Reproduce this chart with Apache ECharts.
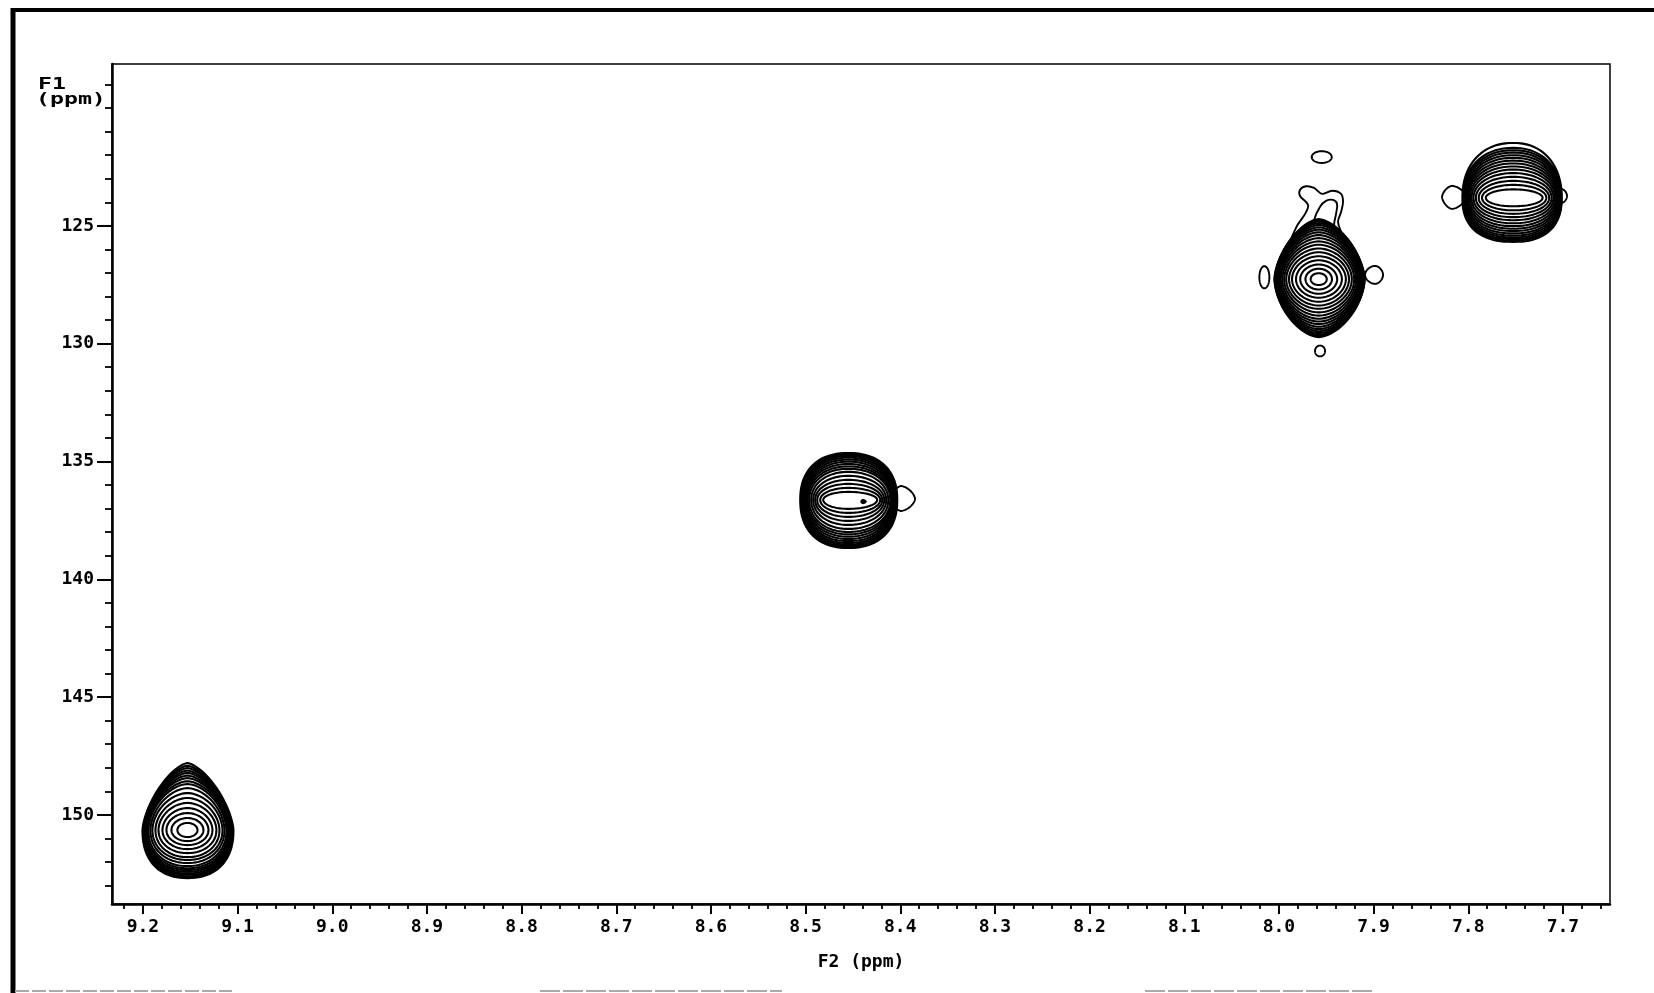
<!DOCTYPE html>
<html>
<head>
<meta charset="utf-8">
<script src="https://cdn.jsdelivr.net/npm/echarts@6/dist/echarts.min.js"></script>
<style>
html,body{margin:0;padding:0;background:#fff;}
#chart{width:1654px;height:993px;}
</style>
</head>
<body>
<div id="chart"></div>
<script>
// ---------- data (ppm) ----------
const f2Range = [7.6503, 9.2327];   // F2 (1H) ppm, drawn right-to-left
const f1Range = [118.13, 153.78];   // F1 (13C) ppm, drawn top-to-bottom
const f2Labels = [9.2, 9.1, 9.0, 8.9, 8.8, 8.7, 8.6, 8.5, 8.4, 8.3, 8.2, 8.1, 8.0, 7.9, 7.8, 7.7];
const f1Labels = [125, 130, 135, 140, 145, 150];

// cross-peak centres [F2, F1]
const peakShifts = [[9.153, 150.64], [8.455, 136.63], [7.958, 127.26], [7.7525, 123.81]];

// contour rings, innermost first: [left, right, up, down] half-extents in ppm
const peak1Rings = [
  [.0106,.0106,.30,.30],[.0169,.0169,.51,.47],[.0222,.0222,.72,.64],[.0264,.0264,.93,.81],
  [.0306,.0306,1.15,.98],[.0338,.0338,1.36,1.15],[.0370,.0370,1.57,1.27],[.0391,.0391,1.78,1.40],
  [.0412,.0412,1.95,1.53],[.0427,.0427,2.07,1.62],[.0438,.0438,2.20,1.70],[.0446,.0446,2.31,1.77],
  [.0454,.0454,2.42,1.84],[.0460,.0462,2.52,1.90],[.0465,.0470,2.63,1.96],[.0470,.0478,2.73,2.00],
  [.0475,.0486,2.84,2.04]
];
const peak2Rings = [
  [.0264,.0306,.34,.38],[.0296,.0338,.51,.55],[.0327,.0359,.68,.72],[.0349,.0380,.85,.89],
  [.0370,.0401,1.02,1.06],[.0391,.0423,1.19,1.23],[.0412,.0444,1.32,1.36],[.0428,.0452,1.42,1.46],
  [.0440,.0461,1.52,1.56],[.0450,.0470,1.62,1.66],[.0460,.0478,1.71,1.75],[.0470,.0486,1.79,1.83],
  [.0480,.0494,1.86,1.90],[.0490,.0502,1.92,1.96],[.0499,.0510,1.96,2.00],[.0507,.0518,1.99,2.04]
];
const peak3Rings = [
  [.0085,.0085,.25,.25],[.0140,.0140,.44,.44],[.0195,.0195,.62,.62],[.0240,.0245,.80,.79],
  [.0282,.0287,.97,.96],[.0314,.0320,1.14,1.12],[.0343,.0350,1.30,1.26],[.0365,.0375,1.46,1.41],
  [.0385,.0395,1.60,1.55],[.0402,.0412,1.74,1.68],[.0415,.0427,1.87,1.80],[.0426,.0440,1.99,1.91],
  [.0435,.0450,2.10,2.02],[.0443,.0459,2.20,2.12],[.0450,.0466,2.30,2.21],[.0456,.0472,2.38,2.29],
  [.0461,.0478,2.45,2.36],[.0465,.0483,2.51,2.42],[.0468,.0486,2.55,2.46]
];
const peak4Rings = [
  [.0290,.0310,.36,.36],[.0330,.0350,.55,.53],[.0365,.0380,.72,.68],[.0395,.0405,.89,.82],
  [.0420,.0425,1.05,.95],[.0440,.0442,1.20,1.08],[.0458,.0456,1.33,1.20],[.0473,.0468,1.46,1.31],
  [.0486,.0478,1.58,1.41],[.0497,.0487,1.70,1.51],[.0507,.0494,1.81,1.60],[.0516,.0500,1.92,1.68],
  [.0524,.0505,2.02,1.75],[.0531,.0509,2.12,1.81],[.0537,.0512,2.33,1.87]
];
const peakRings = [peak1Rings, peak2Rings, peak3Rings, peak4Rings];

// small satellite / shoulder contours [F2, F1] and their single ring
const satelliteShifts = [
  [8.3992, 136.59], // peak 2 shoulder
  [7.9548, 122.08], // peak 3 top island
  [8.0154, 127.18], // peak 3 left island
  [7.8985, 127.08], // peak 3 right island
  [7.9566, 130.31], // peak 3 bottom island
  [7.8171, 123.77], // peak 4 left shoulder
  [7.7020, 123.73]  // peak 4 right shoulder
];
const satelliteRings = [
  [.0106,.0148,.55,.51],
  [.0106,.0106,.25,.25],
  [.0053,.0053,.47,.47],
  [.0106,.0085,.38,.38],
  [.0053,.0053,.23,.23],
  [.0106,.0148,.47,.51],
  [.0085,.0063,.30,.30]
];
// tail contours rising from the 7.96 / 127 ppm peak, [F2, F1] vertices
const tailOuter = [[7.9862,125.81],[7.9820,125.08],[7.9724,124.49],[7.9693,124.11],[7.9777,123.73],
  [7.9777,123.47],[7.9714,123.32],[7.9629,123.39],[7.9545,123.64],[7.9439,123.51],[7.9344,123.64],
  [7.9323,123.98],[7.9344,124.41],[7.9376,124.83],[7.9344,125.25],[7.9291,125.81]];
const tailInner = [[7.9650,125.38],[7.9629,124.75],[7.9566,124.19],[7.9503,123.94],[7.9429,123.90],
  [7.9386,124.07],[7.9397,124.49],[7.9418,124.96],[7.9397,125.38]];
const tailContours = [tailOuter, tailInner];

// second maximum inside peak 2
const markerShifts = [[8.4394, 136.70]];
const markerRings = [[.0021,.0032,.08,.08]];

// ---------- styling ----------
const peakShape = [[1.5, 2.3], [2.3, 2.3], [1.6, 1.7], [2.2, 2.4]];
const satelliteShape = [[1.6,1.6],[2,2],[2,2],[1.8,1.8],[2,2],[1.6,1.6],[1.8,1.8]];
const FONT = 'DejaVu Sans Mono';
const PEAK_LW = 2.1;

const minorF2 = [];
for (let k = 766; k <= 922; k += 2) minorF2.push(k / 100);
const minorF1 = [];
for (let k = 119; k <= 153; k++) minorF1.push(k);

function ringPolygon(api, cx, cy, ring, pTop, pBot, lw) {
  const c = api.coord([cx, cy]);
  const L = Math.abs(api.size([ring[0], 0])[0]);
  const R = Math.abs(api.size([ring[1], 0])[0]);
  const U = Math.abs(api.size([0, ring[2]])[1]);
  const D = Math.abs(api.size([0, ring[3]])[1]);
  const pts = [];
  const N = 96;
  for (let i = 0; i < N; i++) {
    const t = i / N * 2 * Math.PI;
    const co = Math.cos(t), si = Math.sin(t);
    const p = si < 0 ? pTop : pBot;
    const ex = 2 / p;
    const x = c[0] + (co >= 0 ? R : L) * Math.sign(co) * Math.pow(Math.abs(co), ex);
    const y = c[1] + (si >= 0 ? D : U) * Math.sign(si) * Math.pow(Math.abs(si), ex);
    pts.push([x, y]);
  }
  return {
    type: 'polygon',
    shape: { points: pts },
    style: { fill: '#fff', stroke: '#000', lineWidth: lw }
  };
}

function renderPeak(params, api) {
  const i = params.dataIndex;
  const rings = peakRings[i];
  const n = rings.length;
  const children = [];
  for (let k = n - 1; k >= 0; k--) {
    const f = n > 1 ? k / (n - 1) : 1;
    const pT = 2 + (peakShape[i][0] - 2) * f;
    const pB = 2 + (peakShape[i][1] - 2) * f;
    children.push(ringPolygon(api, api.value(0), api.value(1), rings[k], pT, pB, PEAK_LW));
  }
  return { type: 'group', children: children };
}
function renderSatellite(params, api) {
  const i = params.dataIndex;
  return ringPolygon(api, api.value(0), api.value(1), satelliteRings[i],
    satelliteShape[i][0], satelliteShape[i][1], 1.9);
}
function renderTail(params, api) {
  const pts = tailContours[params.dataIndex].map(p => api.coord(p));
  return {
    type: 'polygon',
    shape: { points: pts, smooth: 0.35 },
    style: { fill: '#fff', stroke: '#000', lineWidth: 1.9 }
  };
}
function renderMarker(params, api) {
  const i = params.dataIndex;
  const poly = ringPolygon(api, api.value(0), api.value(1), markerRings[i], 1.5, 1.5, 1.5);
  poly.style.fill = '#000';
  return poly;
}

const labelStyle = { color: '#000', fontFamily: FONT, fontWeight: 'bold', fontSize: 18 };

const option = {
  animation: false,
  backgroundColor: '#fff',
  grid: { left: 112, top: 64, width: 1498, height: 840, show: true, borderColor: '#000', borderWidth: 1.5, backgroundColor: 'transparent' },
  xAxis: [{
    type: 'value', min: f2Range[0], max: f2Range[1], inverse: true, position: 'bottom',
    axisLine: { show: true, lineStyle: { color: '#000', width: 2.5 } },
    axisTick: { show: true, customValues: f2Labels, length: 10, inside: false, lineStyle: { color: '#000', width: 2 } },
    axisLabel: { show: true, customValues: f2Labels, margin: 14, formatter: v => v.toFixed(1), ...labelStyle },
    splitLine: { show: false },
    name: 'F2 (ppm)', nameLocation: 'middle', nameGap: 49,
    nameTextStyle: { ...labelStyle }
  }, {
    type: 'value', min: f2Range[0], max: f2Range[1], inverse: true, position: 'bottom',
    axisLine: { show: false },
    axisTick: { show: true, customValues: minorF2, length: 5, lineStyle: { color: '#000', width: 1.8 } },
    axisLabel: { show: false },
    splitLine: { show: false }
  }],
  yAxis: [{
    type: 'value', min: f1Range[0], max: f1Range[1], inverse: true, position: 'left',
    axisLine: { show: true, lineStyle: { color: '#000', width: 2.5 } },
    axisTick: { show: true, customValues: f1Labels, length: 15, lineStyle: { color: '#000', width: 2 } },
    axisLabel: { show: true, customValues: f1Labels, margin: 18, formatter: v => String(v), ...labelStyle },
    splitLine: { show: false }
  }, {
    type: 'value', min: f1Range[0], max: f1Range[1], inverse: true, position: 'left',
    axisLine: { show: false },
    axisTick: { show: true, customValues: minorF1, length: 7, lineStyle: { color: '#000', width: 1.8 } },
    axisLabel: { show: false },
    splitLine: { show: false }
  }],
  graphic: [
    { type: 'line', shape: { x1: 11, y1: 10, x2: 1654, y2: 10 }, style: { stroke: '#000', lineWidth: 4 } },
    { type: 'line', shape: { x1: 13, y1: 8, x2: 13, y2: 993 }, style: { stroke: '#000', lineWidth: 5 } },
    { type: 'line', shape: { x1: 15, y1: 991, x2: 232, y2: 991 }, style: { stroke: '#aaa', lineWidth: 2, lineDash: [14, 3] } },
    { type: 'line', shape: { x1: 540, y1: 991, x2: 782, y2: 991 }, style: { stroke: '#aaa', lineWidth: 2, lineDash: [20, 3] } },
    { type: 'line', shape: { x1: 1145, y1: 991, x2: 1372, y2: 991 }, style: { stroke: '#aaa', lineWidth: 2, lineDash: [20, 3] } },
    { type: 'text', left: 38, top: 77, scaleX: 1.45, style: { text: 'F1', fill: '#000', font: 'bold 16px "DejaVu Sans Mono"' } },
    { type: 'text', left: 36, top: 92, scaleX: 1.45, style: { text: '(ppm)', fill: '#000', font: 'bold 16px "DejaVu Sans Mono"' } }
  ],
  series: [{
    type: 'custom', name: 'satellites', xAxisIndex: 0, yAxisIndex: 0, clip: true, z: 2,
    renderItem: renderSatellite,
    data: satelliteShifts.map(s => [s[0], s[1]])
  }, {
    type: 'custom', name: 'tail', xAxisIndex: 0, yAxisIndex: 0, clip: true, z: 2,
    renderItem: renderTail,
    data: tailContours.map(c => [c[0][0], c[0][1]])
  }, {
    type: 'custom', name: 'cross peaks', xAxisIndex: 0, yAxisIndex: 0, clip: true, z: 3,
    renderItem: renderPeak,
    data: peakShifts.map(s => [s[0], s[1]])
  }, {
    type: 'custom', name: 'second maximum', xAxisIndex: 0, yAxisIndex: 0, clip: true, z: 4,
    renderItem: renderMarker,
    data: markerShifts.map(s => [s[0], s[1]])
  }]
};

const chart = echarts.init(document.getElementById('chart'), null, { renderer: 'canvas' });
chart.setOption(option);
</script>
</body>
</html>
